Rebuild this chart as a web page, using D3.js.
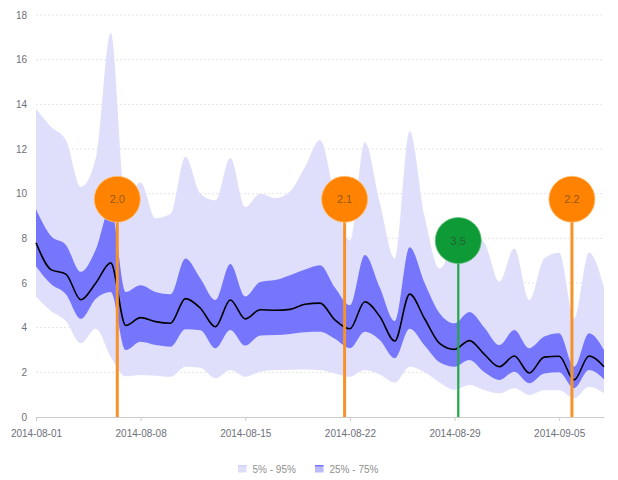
<!DOCTYPE html>
<html>
<head>
<meta charset="utf-8">
<script src="https://cdn.jsdelivr.net/npm/d3@7/dist/d3.min.js"></script>
<style>
  html, body { margin: 0; padding: 0; background: #fff; }
  svg { display: block; font-family: "Liberation Sans", Arial, sans-serif; }
</style>
</head>
<body>
<svg id="chart" width="618" height="480"></svg>
<script>
// ---------------- data ----------------
const dates = [
  "2014-08-01","2014-08-02","2014-08-03","2014-08-04","2014-08-05","2014-08-06","2014-08-07",
  "2014-08-08","2014-08-09","2014-08-10","2014-08-11","2014-08-12","2014-08-13","2014-08-14",
  "2014-08-15","2014-08-16","2014-08-17","2014-08-18","2014-08-19","2014-08-20","2014-08-21",
  "2014-08-22","2014-08-23","2014-08-24","2014-08-25","2014-08-26","2014-08-27","2014-08-28",
  "2014-08-29","2014-08-30","2014-08-31","2014-09-01","2014-09-02","2014-09-03","2014-09-04",
  "2014-09-05","2014-09-06","2014-09-07","2014-09-08"
];
const p95 = [13.8,13.0,12.4,10.3,11.6,17.2,9.8,10.5,8.9,9.1,11.65,10.0,9.7,11.6,9.4,10.0,9.8,10.1,11.2,12.4,
             9.9,7.9,12.3,9.6,7.1,12.8,9.0,6.65,7.8,8.2,7.8,6.06,7.55,5.24,7.1,7.35,4.4,7.35,5.8];
const p75 = [9.3,8.1,7.7,6.5,7.5,9.4,5.6,5.9,5.6,5.5,7.1,6.2,5.24,6.85,5.4,6.05,6.13,6.35,6.6,6.8,
             5.8,5.0,7.25,5.8,4.3,7.6,6.0,4.65,4.2,4.7,4.0,3.22,3.9,3.08,3.6,3.75,2.25,3.75,3.0];
const median = [7.8,6.6,6.4,5.25,6.0,6.9,4.1,4.45,4.27,4.2,5.3,4.87,4.04,5.24,4.39,4.8,4.78,4.82,5.05,5.1,
                4.35,3.95,5.16,4.5,3.4,5.5,4.4,3.3,3.03,3.42,2.8,2.25,2.73,1.97,2.68,2.72,1.66,2.73,2.25];
const p25 = [6.75,5.95,5.5,4.4,5.3,5.6,3.0,3.37,3.22,3.15,3.93,3.88,3.08,3.9,3.2,3.65,3.67,3.72,3.8,3.82,
             3.5,3.08,3.82,3.45,2.63,3.95,3.2,2.45,2.25,2.55,2.0,1.66,2.03,1.51,1.95,2.0,1.29,2.1,1.69];
const p5 = [5.4,4.75,4.3,3.3,3.95,2.7,1.82,1.88,1.85,1.8,2.25,2.2,1.73,2.1,1.8,2.03,2.1,2.12,2.13,2.1,
            1.95,1.8,2.1,1.9,1.54,2.25,2.0,1.55,1.22,1.43,1.2,1.06,1.29,0.99,1.2,1.2,0.84,1.36,1.06];

const xTickLabels = ["2014-08-01","2014-08-08","2014-08-15","2014-08-22","2014-08-29","2014-09-05"];
const yTicks = [0,2,4,6,8,10,12,14,16,18];

const eventTimes  = ["2014-08-06 10:30","2014-08-21 15:30","2014-08-29 06:00","2014-09-05 20:30"];
const eventLabels = ["2.0","2.1","3.5","2.2"];
const eventLevels = [9.75, 9.75, 7.9, 9.75];
const eventKinds  = ["orange","orange","green","orange"];

const legendLabels = ["5% - 95%", "25% - 75%"];

// ---------------- layout ----------------
const svg = d3.select("#chart");
const parseDay = d3.timeParse("%Y-%m-%d");
const parseTime = d3.timeParse("%Y-%m-%d %H:%M");

const rows = dates.map((d, i) => ({
  date: parseDay(d), p95: p95[i], p75: p75[i], med: median[i], p25: p25[i], p5: p5[i]
}));

const x = d3.scaleTime()
  .domain([parseDay(dates[0]), parseDay(dates[dates.length - 1])])
  .range([36, 604]);
const y = d3.scaleLinear().domain([0, 18]).range([417, 15]);

const colors = {
  light: "#dfdffc",
  dark: "#7676fd",
  orange: "#ff8200",
  orangeLine: "#f6922a",
  green: "#0e9a36",
  greenLine: "#23a847"
};

// grid lines
svg.append("g")
  .selectAll("line")
  .data(yTicks.filter(t => t > 0))
  .join("line")
  .attr("x1", 36).attr("x2", 604)
  .attr("y1", d => y(d)).attr("y2", d => y(d))
  .attr("stroke", "#e4e4e4")
  .attr("stroke-width", 1)
  .attr("stroke-dasharray", "2,2");

const curve = d3.curveMonotoneX;

// 5-95 band
svg.append("path")
  .datum(rows)
  .attr("fill", colors.light)
  .attr("d", d3.area().curve(curve).x(d => x(d.date)).y0(d => y(d.p5)).y1(d => y(d.p95)));

// 25-75 band
svg.append("path")
  .datum(rows)
  .attr("fill", colors.dark)
  .attr("d", d3.area().curve(curve).x(d => x(d.date)).y0(d => y(d.p25)).y1(d => y(d.p75)));

// median
svg.append("path")
  .datum(rows)
  .attr("fill", "none")
  .attr("stroke", "#000")
  .attr("stroke-width", 1.6)
  .attr("d", d3.line().curve(curve).x(d => x(d.date)).y(d => y(d.med)));

// x axis
const xAxis = svg.append("g")
  .attr("transform", "translate(0,417)")
  .call(d3.axisBottom(x)
    .tickValues(xTickLabels.map(parseDay))
    .tickFormat(d3.timeFormat("%Y-%m-%d"))
    .tickSize(4)
    .tickPadding(9)
    .tickSizeOuter(0));
xAxis.select(".domain").attr("stroke", "#cccccc");
xAxis.selectAll(".tick line").attr("stroke", "#cccccc");
xAxis.selectAll(".tick text").attr("fill", "#6e7079").attr("font-size", 10)
  .attr("font-family", "'Liberation Sans', Arial, sans-serif");

// y axis (labels only)
const yAxis = svg.append("g")
  .attr("transform", "translate(36,0)")
  .call(d3.axisLeft(y).tickValues(yTicks).tickSize(0).tickPadding(9));
yAxis.select(".domain").remove();
yAxis.selectAll(".tick text").attr("fill", "#6e7079").attr("font-size", 10)
  .attr("font-family", "'Liberation Sans', Arial, sans-serif");

// event markers
const events = eventTimes.map((t, i) => ({
  t: parseTime(t), label: eventLabels[i], level: eventLevels[i], kind: eventKinds[i]
}));
const mg = svg.append("g");
mg.selectAll("line")
  .data(events)
  .join("line")
  .attr("x1", d => x(d.t)).attr("x2", d => x(d.t))
  .attr("y1", d => y(d.level)).attr("y2", y(0))
  .attr("stroke", d => d.kind === "green" ? colors.greenLine : colors.orangeLine)
  .attr("stroke-width", d => d.kind === "green" ? 2.2 : 3);
mg.selectAll("circle")
  .data(events)
  .join("circle")
  .attr("cx", d => x(d.t)).attr("cy", d => y(d.level))
  .attr("r", 23)
  .attr("fill", d => d.kind === "green" ? colors.green : colors.orange)
  .attr("stroke", d => d.kind === "green" ? "#5dbf76" : "#ffbf70")
  .attr("stroke-width", 0.8);
mg.selectAll("text")
  .data(events)
  .join("text")
  .attr("x", d => x(d.t)).attr("y", d => y(d.level) + 4)
  .attr("text-anchor", "middle")
  .attr("font-size", 11)
  .attr("fill", "#333")
  .attr("fill-opacity", 0.55)
  .text(d => d.label);

// legend
const lg = svg.append("g");
const legendItems = [
  { label: legendLabels[0], x: 238, fill: colors.light, top: "#d2d2fa" },
  { label: legendLabels[1], x: 315, fill: "#bcbcfd", top: colors.dark }
];
legendItems.forEach(it => {
  lg.append("rect").attr("x", it.x).attr("y", 465).attr("width", 8.5).attr("height", 7.5)
    .attr("fill", it.fill);
  lg.append("rect").attr("x", it.x).attr("y", 465).attr("width", 8.5).attr("height", 1.5)
    .attr("fill", it.top);
  lg.append("text").attr("x", it.x + 14.5).attr("y", 472.5)
    .attr("font-size", 10).attr("fill", "#8f8f8f").text(it.label);
});
</script>
</body>
</html>
